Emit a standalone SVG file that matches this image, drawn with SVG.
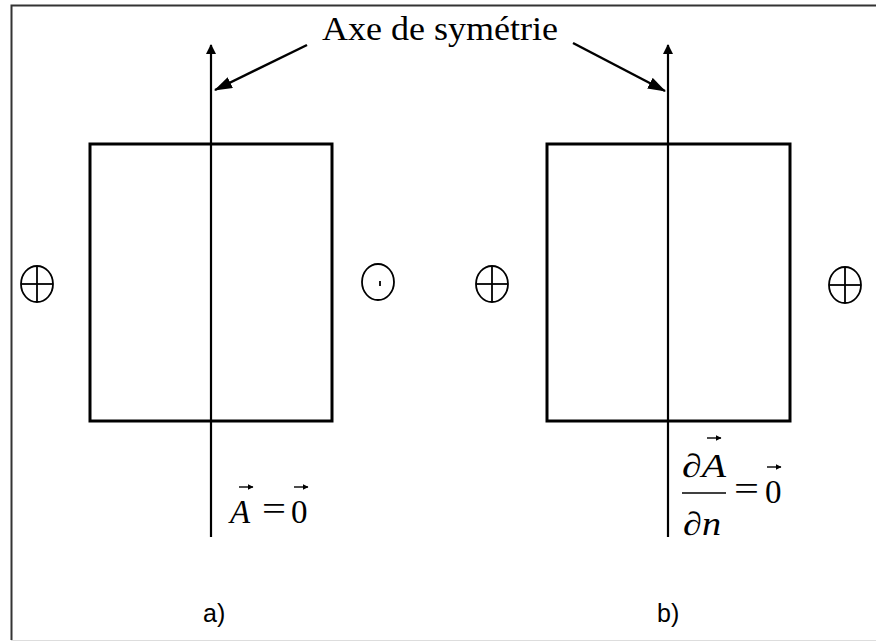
<svg xmlns="http://www.w3.org/2000/svg" width="876" height="642" viewBox="0 0 876 642">
<defs>
<marker id="ah" markerWidth="10" markerHeight="10" refX="9" refY="5" orient="auto" markerUnits="userSpaceOnUse" viewBox="0 0 10 10">
<path d="M0,0 L10,5 L0,10 z" fill="#000"/>
</marker>
<marker id="big" markerWidth="18" markerHeight="12" refX="17" refY="6" orient="auto" markerUnits="userSpaceOnUse" viewBox="0 0 18 12">
<path d="M0,0 L18,6 L0,12 z" fill="#000"/>
</marker>
<marker id="vec" markerWidth="6" markerHeight="6" refX="5.5" refY="3" orient="auto" markerUnits="userSpaceOnUse" viewBox="0 0 6 6">
<path d="M0,0 L6,3 L0,6 z" fill="#000"/>
</marker>
</defs>
<style>
.box{fill:none;stroke:#000;stroke-width:3}
.ax{fill:none;stroke:#000;stroke-width:2.2}
.lbl{fill:none;stroke:#000;stroke-width:2.5}
.sym{fill:none;stroke:#000;stroke-width:1.8}
.serif{font-family:"Liberation Serif","Times New Roman",serif;fill:#000}
.it{font-style:italic}
.cap{font-family:"Liberation Sans",Arial,sans-serif;font-size:25px;fill:#000}
.v{stroke:#000;stroke-width:1.4;fill:none}
</style>
<rect x="0" y="0" width="876" height="642" fill="#fff"/>
<g id="frame">
<path d="M11.5,640 L11.5,5.5 L876,5.5" fill="none" stroke="#333" stroke-width="2"/>
<line x1="11" y1="640.5" x2="876" y2="640.5" stroke="#ddd" stroke-width="1"/>
</g>
<g id="title">
<text class="serif" x="322" y="40" font-size="34" textLength="236" lengthAdjust="spacingAndGlyphs">Axe de symétrie</text>
</g>
<g id="connectors">
<line class="ax" x1="211" y1="537" x2="211" y2="45" marker-end="url(#ah)"/>
<line class="ax" x1="668" y1="537" x2="668" y2="45" marker-end="url(#ah)"/>
<line class="lbl" x1="307" y1="45" x2="215" y2="90" marker-end="url(#big)"/>
<line class="lbl" x1="573" y1="43" x2="665" y2="91" marker-end="url(#big)"/>
</g>
<g id="box-a"><rect class="box" x="90" y="144" width="242" height="277"/></g>
<g id="box-b"><rect class="box" x="547" y="144" width="243" height="277"/></g>
<g id="sym-a-left">
<ellipse class="sym" cx="37" cy="284" rx="16" ry="18"/>
<line class="sym" x1="21" y1="284" x2="53" y2="284"/>
<line class="sym" x1="37" y1="266" x2="37" y2="302"/>
</g>
<g id="sym-a-right">
<ellipse class="sym" cx="378" cy="282" rx="16" ry="18"/>
<line class="sym" x1="380" y1="281" x2="380" y2="286"/>
</g>
<g id="sym-b-left">
<ellipse class="sym" cx="492" cy="284" rx="16" ry="18"/>
<line class="sym" x1="476" y1="284" x2="508" y2="284"/>
<line class="sym" x1="492" y1="266" x2="492" y2="302"/>
</g>
<g id="sym-b-right">
<ellipse class="sym" cx="845" cy="285" rx="16" ry="18"/>
<line class="sym" x1="829" y1="285" x2="861" y2="285"/>
<line class="sym" x1="845" y1="267" x2="845" y2="303"/>
</g>
<g id="eq-a">
<text class="serif it" x="230" y="523" font-size="33">A</text>
<text class="serif" x="262" y="520" font-size="33" textLength="24" lengthAdjust="spacingAndGlyphs">=</text>
<text class="serif" x="291" y="523" font-size="33">0</text>
<line class="v" x1="239" y1="487" x2="253" y2="487" marker-end="url(#vec)"/>
<line class="v" x1="294" y1="487" x2="308" y2="487" marker-end="url(#vec)"/>
</g>
<g id="eq-b">
<text class="serif it" x="682" y="477" font-size="33" textLength="44" lengthAdjust="spacingAndGlyphs">∂A</text>
<line x1="682" y1="493" x2="726" y2="493" stroke="#000" stroke-width="1.5"/>
<text class="serif it" x="683" y="535" font-size="33" textLength="38" lengthAdjust="spacingAndGlyphs">∂n</text>
<text class="serif" x="734" y="500" font-size="33" textLength="25" lengthAdjust="spacingAndGlyphs">=</text>
<text class="serif" x="765" y="503" font-size="33">0</text>
<line class="v" x1="707" y1="438" x2="721" y2="438" marker-end="url(#vec)"/>
<line class="v" x1="767" y1="467" x2="781" y2="467" marker-end="url(#vec)"/>
</g>
<g id="captions">
<text class="cap" x="203" y="622">a)</text>
<text class="cap" x="657" y="622">b)</text>
</g>
</svg>
